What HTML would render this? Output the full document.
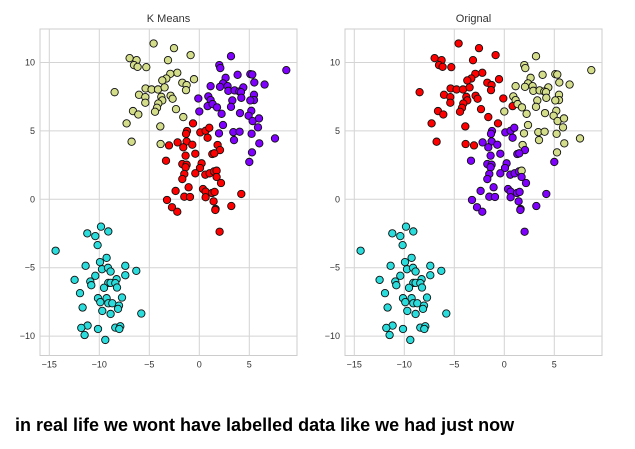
<!DOCTYPE html>
<html><head><meta charset="utf-8"><style>
body{margin:0;background:#fff;width:635px;height:444px;overflow:hidden;font-family:"Liberation Sans",sans-serif}
</style></head><body>
<svg id="chart" width="635" height="444" xmlns="http://www.w3.org/2000/svg" font-family="Liberation Sans, sans-serif">
<text x="15" y="431" font-size="18" font-weight="bold" fill="#000">in real life we wont have labelled data like we had just now</text>
</svg>
<script>
const xs=[-4.57,-2.53,-0.87,-6.97,-6.27,-6.53,-6.17,-5.3,-3.13,-2.2,-2.9,-3.3,-3.7,-0.53,-1.7,-1.27,-1.33,-8.47,-5.37,-4.77,-4.13,-3.47,-6.03,-5.4,-5.4,-3.8,-2.87,-2.67,-3.7,-4.1,-4.23,-4.43,-6.63,-6.1,-2.33,-1.6,-7.27,-3.9,-6.77,-3.87,
3.17,2.0,2.1,8.7,3.83,5.1,5.3,2.63,2.37,1.13,2.07,2.83,5.5,6.53,4.4,2.9,3.53,4.0,4.17,5.47,4.2,-0.1,0.9,1.13,5.47,5.1,3.3,0.83,1.33,1.77,3.17,0.0,2.23,4.07,5.2,4.93,5.33,5.97,2.37,5.87,1.97,3.4,4.03,5.23,7.57,3.47,6.0,5.27,5.0,
-0.63,-1.23,-1.33,0.1,0.63,1.0,0.83,-2.17,-3.03,-1.27,-1.6,-0.7,1.83,2.07,-0.4,-1.37,1.3,1.5,-3.33,-1.7,-1.27,-1.37,0.23,0.07,-0.4,0.6,1.03,1.47,1.73,-1.5,-1.7,1.73,2.17,-1.07,0.37,0.63,-2.37,-1.5,-0.93,0.63,1.27,1.53,4.2,-3.23,1.43,3.2,-2.73,1.63,-2.2,1.6,2.03,
-9.83,-11.2,-10.4,-9.1,-14.37,-10.17,-9.27,-9.93,-11.37,-9.73,-9.13,-8.87,-7.4,-6.3,-7.4,-10.4,-12.47,-10.9,-10.8,-8.27,-9.1,-8.87,-8.4,-9.53,-8.23,-11.93,-10.13,-9.9,-9.27,-7.73,-9.1,-8.7,-8.03,-8.13,-11.67,-9.7,-8.87,-5.8,-11.17,-11.8,-10.13,-8.4,-7.9,-8.0,-11.47,-9.4];
const ys=[11.39,11.05,10.54,10.32,10.17,9.81,9.68,9.66,10.17,9.25,9.17,8.83,8.69,8.78,8.52,8.35,7.98,7.83,8.1,8.03,8.03,8.18,7.64,7.47,7.06,7.49,7.57,7.35,7.23,7.0,6.69,6.4,6.45,6.2,6.59,6.01,5.55,5.33,4.21,4.04,
10.46,9.81,9.59,9.44,9.1,9.15,9.12,8.88,8.47,8.27,8.22,8.27,8.54,8.39,8.18,7.93,7.96,7.88,7.83,7.64,7.42,7.37,7.52,7.25,7.25,7.23,7.23,6.81,6.96,6.72,6.76,6.42,6.25,6.3,6.47,6.11,5.72,5.91,5.43,5.26,4.82,4.91,4.94,4.79,4.45,4.33,4.09,3.43,2.73,
5.55,4.99,4.79,4.89,5.01,5.23,4.5,4.16,3.94,4.23,3.8,3.99,3.97,3.6,3.33,3.19,3.31,3.36,2.82,2.58,2.53,2.34,2.63,2.29,1.9,1.8,1.9,2.04,2.09,1.85,1.48,1.63,1.19,0.88,0.75,0.56,0.61,0.19,0.17,0.15,0.46,0.54,0.39,-0.05,-0.15,-0.49,-0.58,-0.71,-0.91,-0.78,-2.37,
-2.0,-2.49,-2.69,-2.35,-3.76,-3.35,-4.28,-4.59,-4.86,-5.11,-5.01,-5.28,-4.86,-5.23,-5.55,-5.59,-5.89,-6.01,-6.28,-5.84,-6.11,-6.11,-6.13,-6.47,-6.45,-6.86,-7.23,-7.52,-7.23,-7.18,-7.6,-7.6,-7.77,-8.01,-7.91,-8.16,-8.38,-8.35,-9.23,-9.4,-9.48,-9.38,-9.28,-9.48,-9.92,-10.28];
// cluster labels: 0 purple,1 cyan,2 yellow,3 red
const kmeansLabels=[];const origLabels=[];
for(let i=0;i<40;i++){kmeansLabels.push(2);origLabels.push(3);}
for(let i=0;i<49;i++){kmeansLabels.push(0);origLabels.push(2);}
for(let i=0;i<51;i++){kmeansLabels.push(3);origLabels.push(0);}
for(let i=0;i<46;i++){kmeansLabels.push(1);origLabels.push(1);}
origLabels[40+21]=3;origLabels[40+27]=3;origLabels[40+48]=0;
origLabels[89+0]=3;origLabels[89+8]=3;origLabels[89+12]=2;origLabels[89+28]=2;
const xTicks=[-15,-10,-5,0,5];
const yTicks=[10,5,0,-5,-10];
const colors=['#8000ff','#2adcdc','#d4dd8a','#ff0000'];

const svg=document.getElementById('chart');
const NS='http://www.w3.org/2000/svg';
function mk(t,a){const e=document.createElementNS(NS,t);for(const k in a)e.setAttribute(k,a[k]);svg.appendChild(e);return e;}
const plotTop=29,plotBot=355.5,plotW=257;
function panel(off,title,labels,name){
  const L=40+off;
  const sx=v=>199.3+off+10.0*v;
  const sy=v=>199.3-13.68*v;
  const bg=mk('rect',{x:L,y:plotTop,width:plotW,height:plotBot-plotTop,fill:'#fff',stroke:'#cccccc','stroke-width':1});
  
  
  xTicks.forEach(t=>{
    const g=mk('line',{x1:sx(t),x2:sx(t),y1:plotTop,y2:plotBot,stroke:'#d4d4d4','stroke-width':1});
    
    
    const tx=mk('text',{x:sx(t),y:plotBot+12,'font-size':9,'text-anchor':'middle',fill:'#333'});
    tx.textContent=(t<0?'\u2212'+(-t):t);
    
    
  });
  yTicks.forEach(t=>{
    const g=mk('line',{x1:L,x2:L+plotW,y1:sy(t),y2:sy(t),stroke:'#d4d4d4','stroke-width':1});
    
    
    const tx=mk('text',{x:L-5,y:sy(t)+3,'font-size':9,'text-anchor':'end',fill:'#333'});
    tx.textContent=(t<0?'\u2212'+(-t):t);
    
    
  });
  for(let i=0;i<xs.length;i++){
    const c=mk('circle',{cx:sx(xs[i]),cy:sy(ys[i]),r:3.7,fill:colors[labels[i]],stroke:'#111','stroke-width':0.9});
    
    
  }
  const tt=mk('text',{x:L+plotW/2,y:22,'font-size':11,'text-anchor':'middle',fill:'#333'});
  tt.textContent=title;
  
  
}
panel(0,'K Means',kmeansLabels,'kmeans');
panel(305,'Orignal',origLabels,'original');
</script>
</body></html>
